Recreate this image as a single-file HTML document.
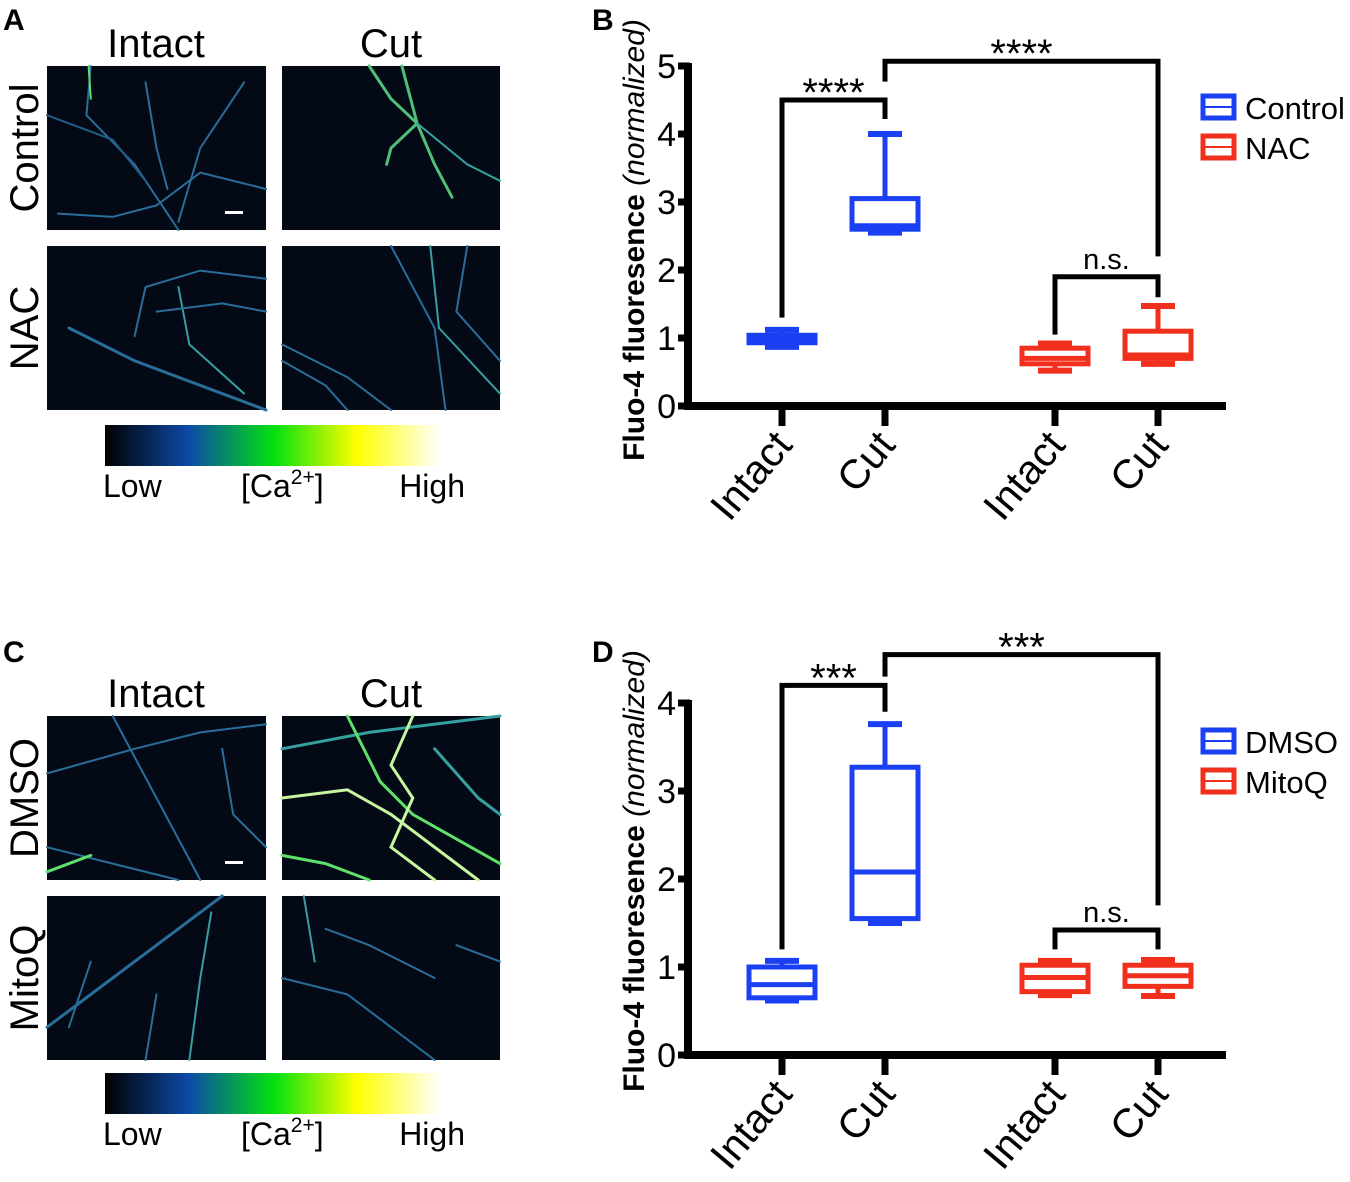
<!DOCTYPE html>
<html><head><meta charset="utf-8"><style>
html,body{margin:0;padding:0;background:#fff;}
svg{display:block;font-family:"Liberation Sans",Arial,sans-serif;}
</style></head><body>
<svg id="fig" width="1350" height="1182" viewBox="0 0 1350 1182" xmlns="http://www.w3.org/2000/svg">
<defs>
<linearGradient id="cbar" x1="0" x2="1" y1="0" y2="0">
<stop offset="0" stop-color="#000000"/><stop offset="0.25" stop-color="#0d4aa8"/><stop offset="0.5" stop-color="#00e010"/><stop offset="0.75" stop-color="#ffff00"/><stop offset="1" stop-color="#ffffff"/>
</linearGradient>
</defs>
<g font-weight="bold" font-size="30">
<text x="3" y="30">A</text>
<text x="592" y="30">B</text>
<text x="3" y="662">C</text>
<text x="592" y="662">D</text>
</g>
<g id="imgs"></g>
<g id="chartB"></g>
<g id="chartD"></g>
</svg>
<script>
// Chart B data
const catsB = ["Intact","Cut","Intact","Cut"];
const groupB = ["Control","Control","NAC","NAC"];
const minB = [0.87, 2.55, 0.52, 0.62];
const q1B = [0.93, 2.60, 0.62, 0.70];
const medB = [0.98, 2.65, 0.70, 0.75];
const q3B = [1.04, 3.05, 0.85, 1.10];
const maxB = [1.12, 4.00, 0.92, 1.47];
const ticksB = [0,1,2,3,4,5];
const legendB = ["Control","NAC"];
// Chart D data
const catsD = ["Intact","Cut","Intact","Cut"];
const groupD = ["DMSO","DMSO","MitoQ","MitoQ"];
const minD = [0.62, 1.50, 0.68, 0.67];
const q1D = [0.65, 1.55, 0.72, 0.78];
const medD = [0.80, 2.08, 0.88, 0.90];
const q3D = [1.00, 3.27, 1.02, 1.02];
const maxD = [1.07, 3.76, 1.07, 1.08];
const ticksD = [0,1,2,3,4];
const legendD = ["DMSO","MitoQ"];

const NS="http://www.w3.org/2000/svg";
function mk(parent, tag, attrs, text){
  const e=document.createElementNS(NS,tag);
  for(const k in attrs) e.setAttribute(k,attrs[k]);
  if(text!==undefined) e.textContent=text;
  parent.appendChild(e); return e;
}
const xPos=[782,885,1055,1158];
const colors={Control:"#1b3ff2",DMSO:"#1b3ff2",NAC:"#f0301c",MitoQ:"#f0301c"};

function drawChart(gid, y0, pxPerUnit, cats, groups, mn, q1, md, q3, mx, ticks, legend, brackets, legY, titleCenter){
  const g=document.getElementById(gid);
  const Y=v=>y0-v*pxPerUnit;
  const X=i=>xPos[i];
  const top=Y(ticks[ticks.length-1]);
  let a=mk(g,"line",{x1:688,x2:688,y1:top-3,y2:y0+4,stroke:"#000","stroke-width":8});
  
  
  a=mk(g,"line",{x1:684,x2:1226,y1:y0,y2:y0,stroke:"#000","stroke-width":8});
  
  
  ticks.forEach(t=>{
    let l=mk(g,"line",{x1:678,x2:690,y1:Y(t),y2:Y(t),stroke:"#000","stroke-width":7});
    
    
    let tx=mk(g,"text",{x:676,y:Y(t)+12,"font-size":34,"text-anchor":"end"},String(t));
    
    
  });
  cats.forEach((c,i)=>{
    let l=mk(g,"line",{x1:X(i),x2:X(i),y1:y0,y2:y0+20,stroke:"#000","stroke-width":7});
    
    
    let tx=mk(g,"text",{x:0,y:0,"font-size":41,"text-anchor":"end",transform:`translate(${X(i)+12},${y0+40}) rotate(-50)`},c);
    
    
  });
  const yt=mk(g,"text",{x:0,y:0,"font-size":30,"font-weight":"bold",transform:`translate(644,${titleCenter}) rotate(-90)`,"text-anchor":"middle"});
  
  
  mk(yt,"tspan",{},"Fluo-4 fluoresence ");
  mk(yt,"tspan",{"font-style":"italic","font-weight":"normal"},"(normalized)");
  cats.forEach((c,i)=>{
    const col=colors[groups[i]], x=X(i), hw=33, cw=17;
    const bg=mk(g,"g",{stroke:col,"stroke-width":5,fill:"none"});
    
    
    mk(bg,"line",{x1:x,x2:x,y1:Y(mx[i]),y2:Y(q3[i])});
    mk(bg,"line",{x1:x,x2:x,y1:Y(q1[i]),y2:Y(mn[i])});
    mk(bg,"line",{x1:x-cw,x2:x+cw,y1:Y(mx[i]),y2:Y(mx[i]),"stroke-width":6});
    mk(bg,"line",{x1:x-cw,x2:x+cw,y1:Y(mn[i]),y2:Y(mn[i]),"stroke-width":6});
    mk(bg,"rect",{x:x-hw,y:Y(q3[i]),width:2*hw,height:Y(q1[i])-Y(q3[i])});
    mk(bg,"line",{x1:x-hw,x2:x+hw,y1:Y(md[i]),y2:Y(md[i])});
  });
  brackets.forEach(b=>{
    const bg=mk(g,"g",{});
    
    
    mk(bg,"path",{d:`M${X(b.i)},${Y(b.l)} V${Y(b.y)} H${X(b.j)} V${Y(b.r)}`,fill:"none",stroke:"#000","stroke-width":5});
    mk(bg,"text",{x:(X(b.i)+X(b.j))/2,y:Y(b.y)-(b.t==="n.s."?8:-6),"font-size":b.t==="n.s."?29:40,"text-anchor":"middle"},b.t);
  });
  legend.forEach((name,k)=>{
    const lg=mk(g,"g",{});
    
    
    const yy=legY+k*40;
    mk(lg,"rect",{x:1203,y:yy-11,width:31,height:22,fill:"none",stroke:colors[name],"stroke-width":5});
    mk(lg,"line",{x1:1203,x2:1234,y1:yy,y2:yy,stroke:colors[name],"stroke-width":2});
    mk(lg,"text",{x:1245,y:yy+12,"font-size":31},name);
  });
}
drawChart("chartB",406,68,catsB,groupB,minB,q1B,medB,q3B,maxB,ticksB,legendB,[
  {i:0,j:1,y:4.5,l:1.3,r:4.22,t:"****"},
  {i:1,j:3,y:5.07,l:4.77,r:2.2,t:"****"},
  {i:2,j:3,y:1.9,l:1.05,r:1.6,t:"n.s."}
],107,240);
drawChart("chartD",1055,88,catsD,groupD,minD,q1D,medD,q3D,maxD,ticksD,legendD,[
  {i:0,j:1,y:4.2,l:1.2,r:3.9,t:"***"},
  {i:1,j:3,y:4.55,l:4.3,r:1.7,t:"***"},
  {i:2,j:3,y:1.42,l:1.2,r:1.2,t:"n.s."}
],741,871);

const imgG=document.getElementById("imgs");
function panel(x,y,w,h,name,lines){
  const g=mk(imgG,"g",{});
  
  
  mk(g,"rect",{x:x,y:y,width:w,height:h,fill:"#030a16"});
  lines.forEach(l=>{
    mk(g,"polyline",{points:l.p.map(pt=>(x+pt[0]*w)+","+(y+pt[1]*h)).join(" "),fill:"none",stroke:l.c,"stroke-width":l.w||2,"stroke-linecap":"round"});
  });
}
const dim="#2a6c9a", mid="#36a0a0", brt="#5fe06a", vb="#c8f5a0";
panel(47,66,219,164,"image-control-intact",[
 {p:[[0.2,0],[0.18,0.3],[0.4,0.6],[0.55,0.9],[0.6,1]],c:dim},
 {p:[[0.45,0.1],[0.5,0.5],[0.55,0.75]],c:dim},
 {p:[[0.9,0.1],[0.7,0.5],[0.6,0.95]],c:dim},
 {p:[[0.05,0.9],[0.3,0.92],[0.5,0.85],[0.7,0.65],[1,0.75]],c:dim},
 {p:[[0,0.3],[0.3,0.45],[0.45,0.7]],c:"#225d88"},
 {p:[[0.19,0],[0.2,0.2]],c:brt}]);
panel(282,66,218,164,"image-control-cut",[
 {p:[[0.4,0],[0.5,0.2],[0.62,0.35],[0.7,0.6],[0.78,0.8]],c:"#4fc07a",w:3},
 {p:[[0.55,0],[0.62,0.35],[0.5,0.5],[0.48,0.6]],c:"#4fc07a",w:3},
 {p:[[0.62,0.35],[0.85,0.6],[1,0.7]],c:mid}]);
panel(47,246,219,164,"image-nac-intact",[
 {p:[[0.1,0.5],[0.4,0.7],[1,1]],c:dim,w:3},
 {p:[[0.6,0.25],[0.65,0.6],[0.9,0.9]],c:mid},
 {p:[[0.4,0.55],[0.45,0.25],[0.7,0.15],[1,0.2]],c:dim},
 {p:[[0.5,0.4],[0.8,0.35],[1,0.4]],c:dim}]);
panel(282,246,218,164,"image-nac-cut",[
 {p:[[0,0.6],[0.3,0.8],[0.5,1]],c:dim},
 {p:[[0,0.7],[0.2,0.85],[0.3,1]],c:dim},
 {p:[[0.5,0],[0.7,0.5],[0.75,1]],c:dim},
 {p:[[0.68,0],[0.72,0.5],[1,0.9]],c:mid},
 {p:[[0.85,0],[0.8,0.4],[1,0.7]],c:dim}]);
panel(47,716,219,164,"image-dmso-intact",[
 {p:[[0,0.35],[0.4,0.2],[0.7,0.1],[1,0.05]],c:dim},
 {p:[[0.3,0],[0.5,0.5],[0.7,1]],c:dim},
 {p:[[0,0.8],[0.3,0.9],[0.6,1]],c:dim},
 {p:[[0.8,0.2],[0.85,0.6],[1,0.8]],c:dim},
 {p:[[0,0.95],[0.2,0.85]],c:brt,w:3}]);
panel(282,716,218,164,"image-dmso-cut",[
 {p:[[0,0.2],[0.4,0.1],[1,0]],c:mid,w:3},
 {p:[[0,0.5],[0.3,0.45],[0.5,0.6],[0.9,1]],c:vb,w:3},
 {p:[[0.3,0],[0.45,0.4],[0.6,0.6],[1,0.9]],c:brt,w:3},
 {p:[[0.6,0],[0.5,0.3],[0.6,0.5],[0.5,0.8],[0.7,1]],c:vb,w:3},
 {p:[[0,0.85],[0.2,0.9],[0.4,1]],c:brt,w:3},
 {p:[[0.7,0.2],[0.9,0.5],[1,0.6]],c:mid,w:3}]);
panel(47,896,219,164,"image-mitoq-intact",[
 {p:[[0,0.8],[0.3,0.5],[0.6,0.2],[0.8,0]],c:dim,w:3},
 {p:[[0.75,0.1],[0.7,0.5],[0.65,1]],c:mid},
 {p:[[0.5,0.6],[0.45,1]],c:dim},
 {p:[[0.2,0.4],[0.1,0.8]],c:dim}]);
panel(282,896,218,164,"image-mitoq-cut",[
 {p:[[0,0.5],[0.3,0.6],[0.5,0.8],[0.7,1]],c:dim},
 {p:[[0.2,0.2],[0.4,0.3],[0.7,0.5]],c:dim},
 {p:[[0.1,0],[0.15,0.4]],c:mid},
 {p:[[0.8,0.3],[1,0.4]],c:dim}]);
[[225,223],[225,873]].forEach(s=>{
  const r=mk(imgG,"rect",{x:s[0],y:s[1]-12,width:18,height:3,fill:"#fff"});
  
  
});
function labels(yTop,rows,cbY){
  let t=mk(imgG,"text",{x:156,y:yTop,"font-size":40,"text-anchor":"middle"},"Intact");
  
  
  t=mk(imgG,"text",{x:391,y:yTop,"font-size":40,"text-anchor":"middle"},"Cut");
  
  
  rows.forEach(r=>{
    const rt=mk(imgG,"text",{x:0,y:0,"font-size":40,"text-anchor":"middle",transform:`translate(38,${r[1]}) rotate(-90)`},r[0]);
    
    
  });
  const cb=mk(imgG,"rect",{x:105,y:cbY,width:336,height:41,fill:"url(#cbar)"});
  
  
  t=mk(imgG,"text",{x:103,y:cbY+72,"font-size":32},"Low");
  
  
  t=mk(imgG,"text",{x:465,y:cbY+72,"font-size":32,"text-anchor":"end"},"High");
  
  
  t=mk(imgG,"text",{x:241,y:cbY+72,"font-size":32});
  
  
  mk(t,"tspan",{},"[Ca");
  mk(t,"tspan",{dy:-13,"font-size":21},"2+");
  mk(t,"tspan",{dy:13},"]");
}
labels(57,[["Control",148],["NAC",328]],425);
labels(707,[["DMSO",798],["MitoQ",978]],1073);
</script>
</body></html>
